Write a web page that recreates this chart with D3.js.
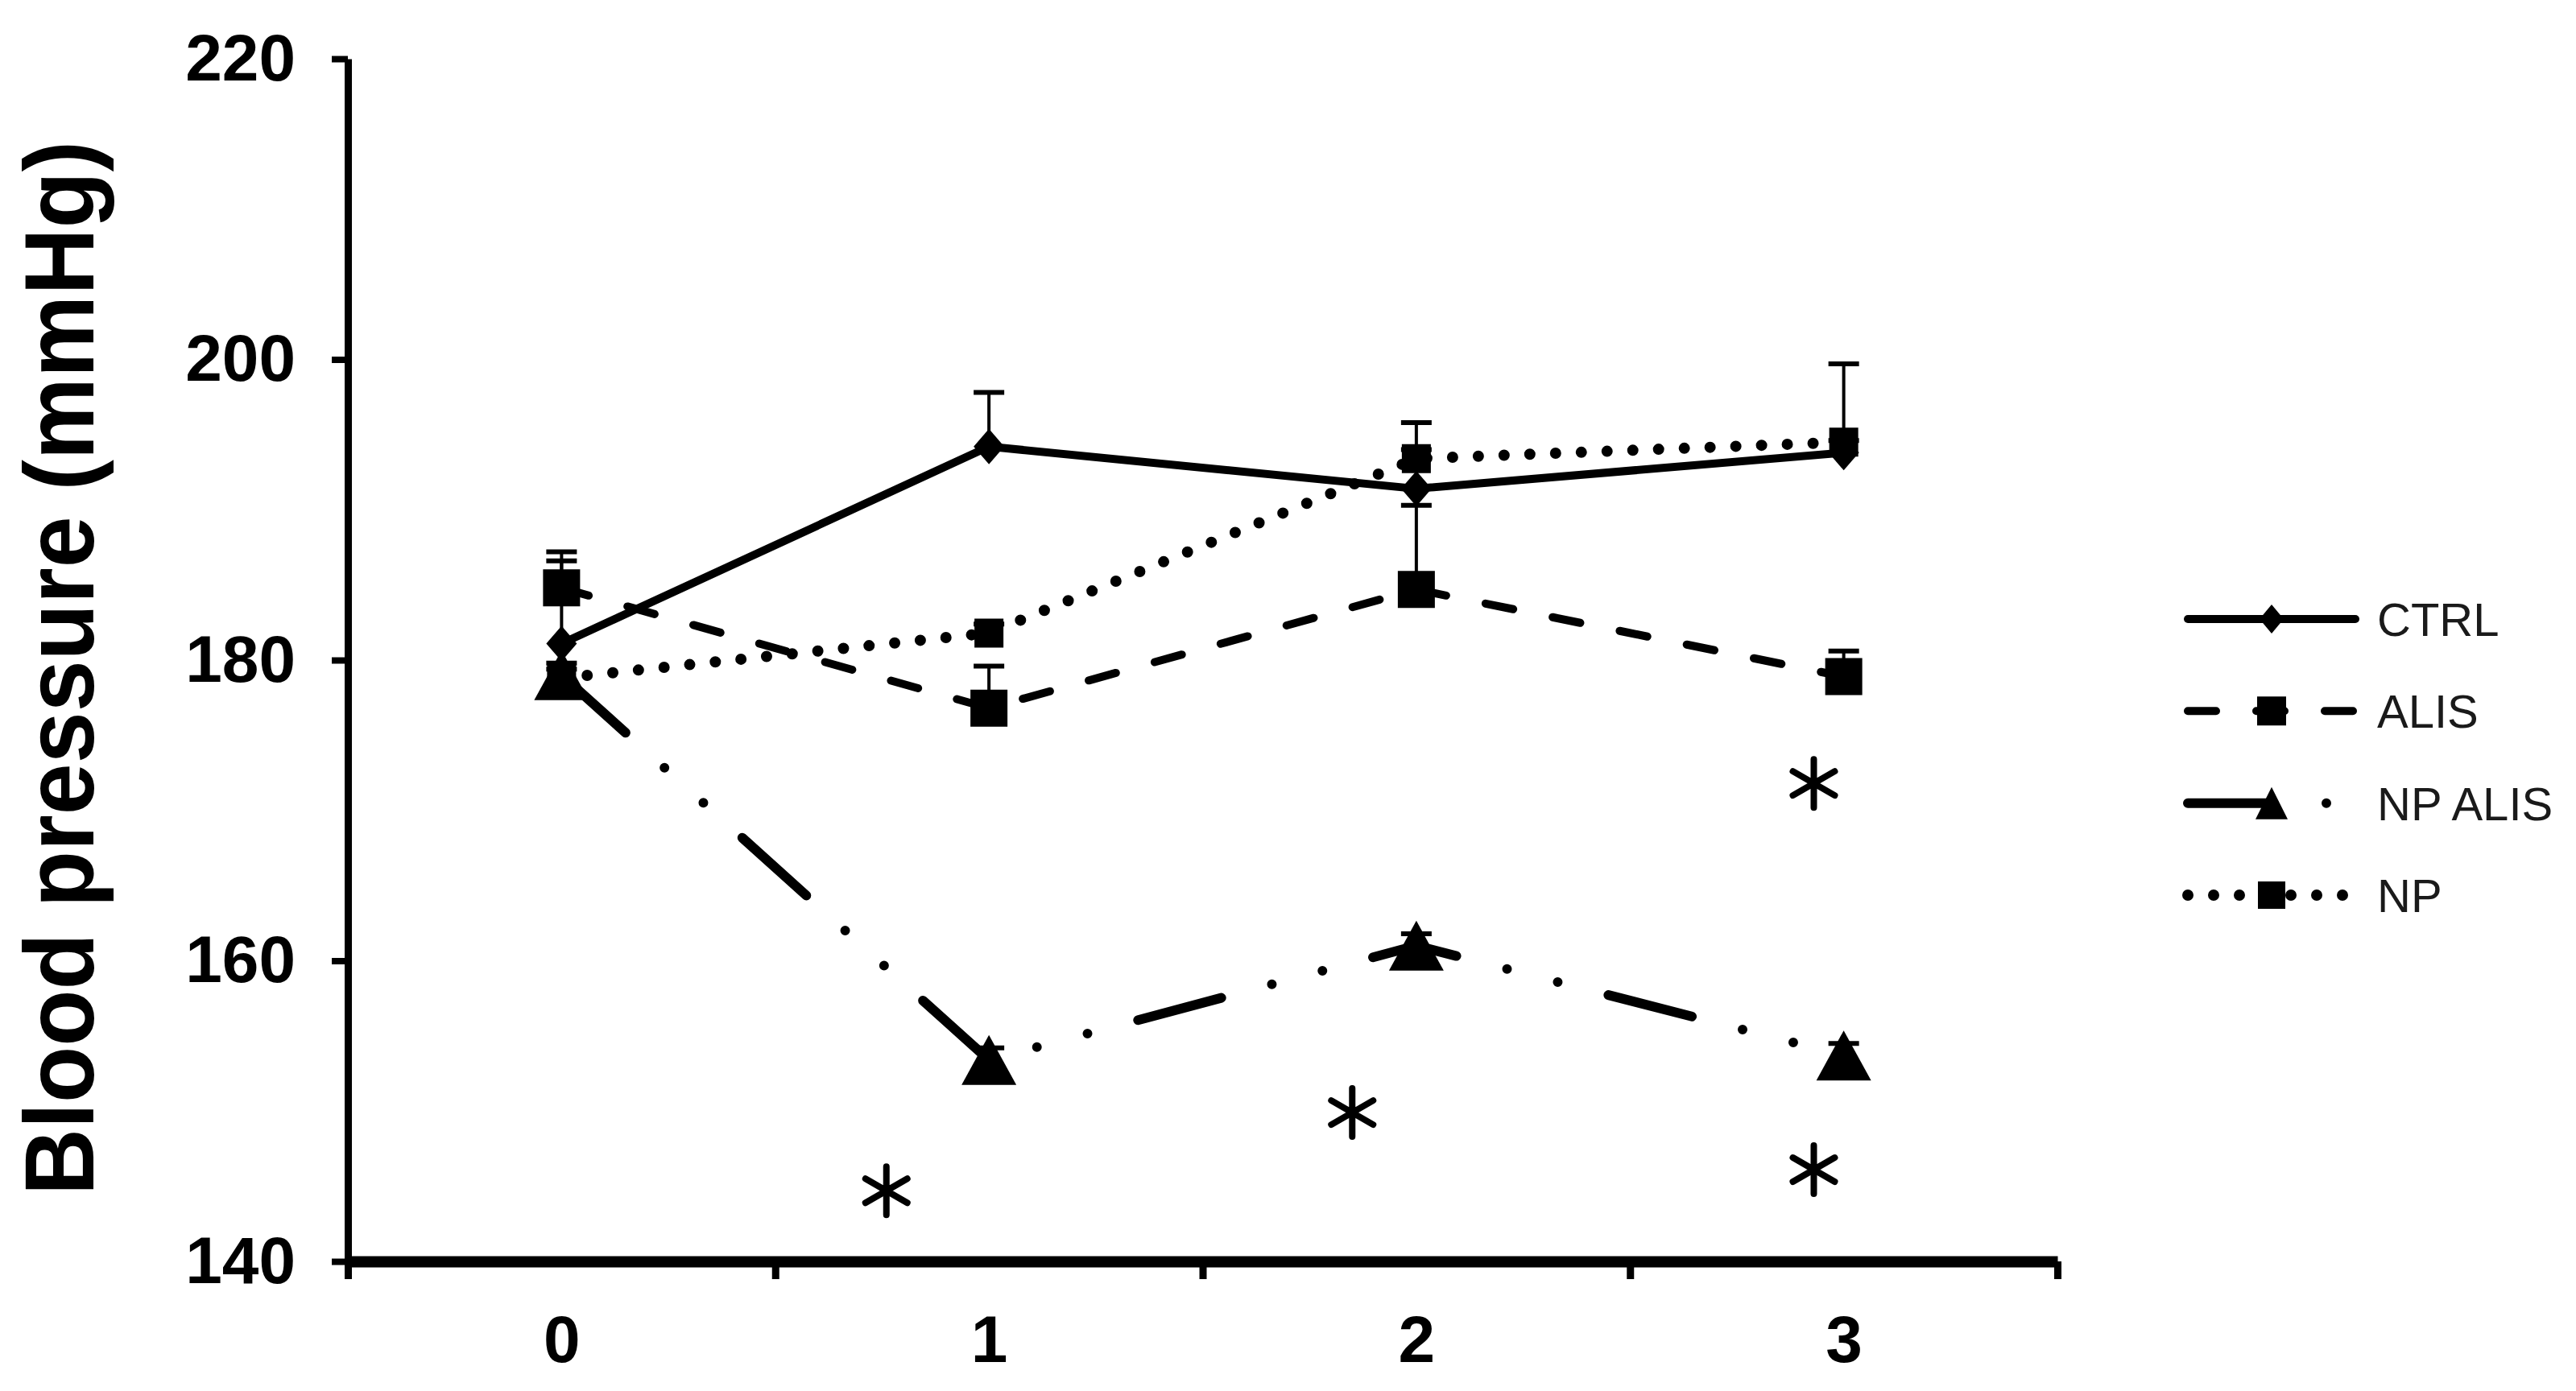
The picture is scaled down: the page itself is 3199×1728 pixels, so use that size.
<!DOCTYPE html>
<html>
<head>
<meta charset="utf-8">
<script src="https://cdn.jsdelivr.net/npm/d3@7"></script>
<style>
  html, body { margin: 0; padding: 0; background: #fff; }
  svg { display: block; }
  text { font-family: "Liberation Sans", Arial, sans-serif; }
</style>
</head>
<body>
<script>
//** Values (mmHg, weeks 0-3)
var weeks = ['0', '1', '2', '3'];
var ctrl = [181.1, 194.2, 191.4, 193.8];
var ctrlErr = [5.5, 3.6, 4.4, 0.8];
var alis = [184.8, 176.8, 184.7, 178.9];
var alisErr = [2.4, 2.8, 5.6, 1.7];
var npAlis = [179.0, 153.4, 161.0, 153.7];
var npAlisErr = [0.8, 0.8, 0.8, 0.8];
var np = [178.8, 181.8, 193.4, 194.5];
var npErr = [0.6, 0.6, 0.6, 5.2];
var seriesNames = ['CTRL', 'ALIS', 'NP ALIS', 'NP'];
var yTicks = [140, 160, 180, 200, 220];

//** significance stars: position in week units and value
var starX = [0.76, 1.85, 2.93, 2.93];
var starY = [144.7, 149.9, 146.1, 171.8];

var W = 3199, H = 1728;
var plotLeft = 432, plotRight = 2555, plotTop = 73, plotBottom = 1567;

var svg = d3.select('body').append('svg')
    .attr('width', W)
    .attr('height', H);

var x = d3.scaleLinear().domain([-0.5, 3.5]).range([plotLeft, plotRight]);
var y = d3.scaleLinear().domain([140, 220]).range([plotBottom, plotTop]);

// ** marker shapes
var diamond = function(w, h){
  return 'M0,' + (-h) + 'L' + w + ',0L0,' + h + 'L' + (-w) + ',0Z';
};
var square = function(s){
  return 'M' + (-s) + ',' + (-s) + 'H' + s + 'V' + s + 'H' + (-s) + 'Z';
};
var triangle = function(w, h){
  return 'M0,' + (-h) + 'L' + w + ',' + h + 'L' + (-w) + ',' + h + 'Z';
};

var series = [
  {name: seriesNames[0], values: ctrl, err: ctrlErr, width: 10, dash: null,
   mark: diamond(19, 22), legendMark: diamond(15, 18)},
  {name: seriesNames[1], values: alis, err: alisErr, width: 10, dash: '35,50',
   mark: square(23), legendMark: square(18)},
  {name: seriesNames[2], values: npAlis, err: npAlisErr, width: 12, dash: '107,65,0,65,0,65',
   mark: triangle(34, 31), legendMark: triangle(20, 20)},
  {name: seriesNames[3], values: np, err: npErr, width: 14, dash: '0,32',
   mark: square(18), legendMark: square(17)}
];

//** Axes
var yAxis = svg.append('g')
    .attr('transform', 'translate(' + plotLeft + ',0)')
    .call(d3.axisLeft(y).tickValues(yTicks).tickSize(20).tickSizeOuter(0).tickPadding(45));
yAxis.select('.domain').attr('stroke', '#000').attr('stroke-width', 9);
yAxis.selectAll('.tick line').attr('stroke', '#000').attr('stroke-width', 8);
yAxis.selectAll('.tick text')
    .attr('font-size', 82).attr('font-weight', 'bold').attr('fill', '#000')
    .style('font-family', '"Liberation Sans", Arial, sans-serif');

var xAxis = svg.append('g')
    .attr('transform', 'translate(0,' + plotBottom + ')')
    .call(d3.axisBottom(x).tickValues([-0.5, 0.5, 1.5, 2.5, 3.5]).tickSize(22).tickSizeOuter(0).tickFormat(''));
xAxis.select('.domain').attr('stroke', '#000').attr('stroke-width', 14);
xAxis.selectAll('.tick line').attr('stroke', '#000').attr('stroke-width', 9);

var xLabels = svg.append('g')
    .attr('transform', 'translate(0,' + plotBottom + ')')
    .call(d3.axisBottom(x).tickValues([0, 1, 2, 3]).tickSize(0).tickPadding(67)
      .tickFormat(function(d){ return weeks[d]; }));
xLabels.select('.domain').remove();
xLabels.selectAll('.tick text')
    .attr('font-size', 82).attr('font-weight', 'bold').attr('fill', '#000')
    .style('font-family', '"Liberation Sans", Arial, sans-serif');

//** Y title
svg.append('text')
    .attr('transform', 'translate(116,830) rotate(-90)')
    .attr('text-anchor', 'middle')
    .attr('font-size', 123)
    .attr('font-weight', 'bold')
    .attr('textLength', 1310)
    .attr('lengthAdjust', 'spacingAndGlyphs')
    .text('Blood pressure (mmHg)');

//** Error bars (plus side only)
series.forEach(function(s){
  var g = svg.append('g');
  s.values.forEach(function(v, i){
    g.append('line')
        .attr('x1', x(i)).attr('x2', x(i))
        .attr('y1', y(v)).attr('y2', y(v + s.err[i]))
        .attr('stroke', '#000').attr('stroke-width', 4);
    g.append('line')
        .attr('x1', x(i) - 19).attr('x2', x(i) + 19)
        .attr('y1', y(v + s.err[i])).attr('y2', y(v + s.err[i]))
        .attr('stroke', '#000').attr('stroke-width', 6);
  });
});

//** Lines
var line = d3.line()
    .x(function(d, i){ return x(i); })
    .y(function(d){ return y(d); });

series.forEach(function(s){
  svg.append('path')
      .datum(s.values)
      .attr('d', line)
      .attr('fill', 'none')
      .attr('stroke', '#000')
      .attr('stroke-width', s.width)
      .attr('stroke-linecap', 'round')
      .attr('stroke-linejoin', 'round')
      .attr('stroke-dasharray', s.dash);
});

//** Markers
series.forEach(function(s){
  svg.append('g').selectAll('path')
      .data(s.values)
      .enter().append('path')
      .attr('d', s.mark)
      .attr('transform', function(d, i){ return 'translate(' + x(i) + ',' + y(d) + ')'; })
      .attr('fill', '#000');
});

//** Stars
var asterisk = function(r){
  var p = d3.path();
  for (var k = 0; k < 3; k++) {
    var a = Math.PI / 2 + k * Math.PI / 3;
    p.moveTo(r * Math.cos(a), r * Math.sin(a));
    p.lineTo(-r * Math.cos(a), -r * Math.sin(a));
  }
  return p.toString();
};
svg.append('g').selectAll('path')
    .data(starX)
    .enter().append('path')
    .attr('d', asterisk(30))
    .attr('transform', function(d, i){ return 'translate(' + x(d) + ',' + y(starY[i]) + ')'; })
    .attr('fill', 'none')
    .attr('stroke', '#000')
    .attr('stroke-width', 8)
    .attr('stroke-linecap', 'round');

//** Legend
var legendY = d3.scalePoint().domain(seriesNames).range([769, 1112]);
var legend = svg.append('g');
series.forEach(function(s){
  var ly = legendY(s.name);
  legend.append('path')
      .attr('d', 'M2717,' + ly + 'H2925')
      .attr('fill', 'none')
      .attr('stroke', '#000')
      .attr('stroke-width', s.width)
      .attr('stroke-linecap', 'round')
      .attr('stroke-dasharray', s.dash);
  legend.append('path')
      .attr('d', s.legendMark)
      .attr('transform', 'translate(2821,' + ly + ')')
      .attr('fill', '#000');
  legend.append('text')
      .attr('x', 2952)
      .attr('y', ly)
      .attr('dy', '0.36em')
      .attr('font-size', 58)
      .attr('fill', '#1a1a1a')
      .text(s.name);
});
</script>
</body>
</html>
